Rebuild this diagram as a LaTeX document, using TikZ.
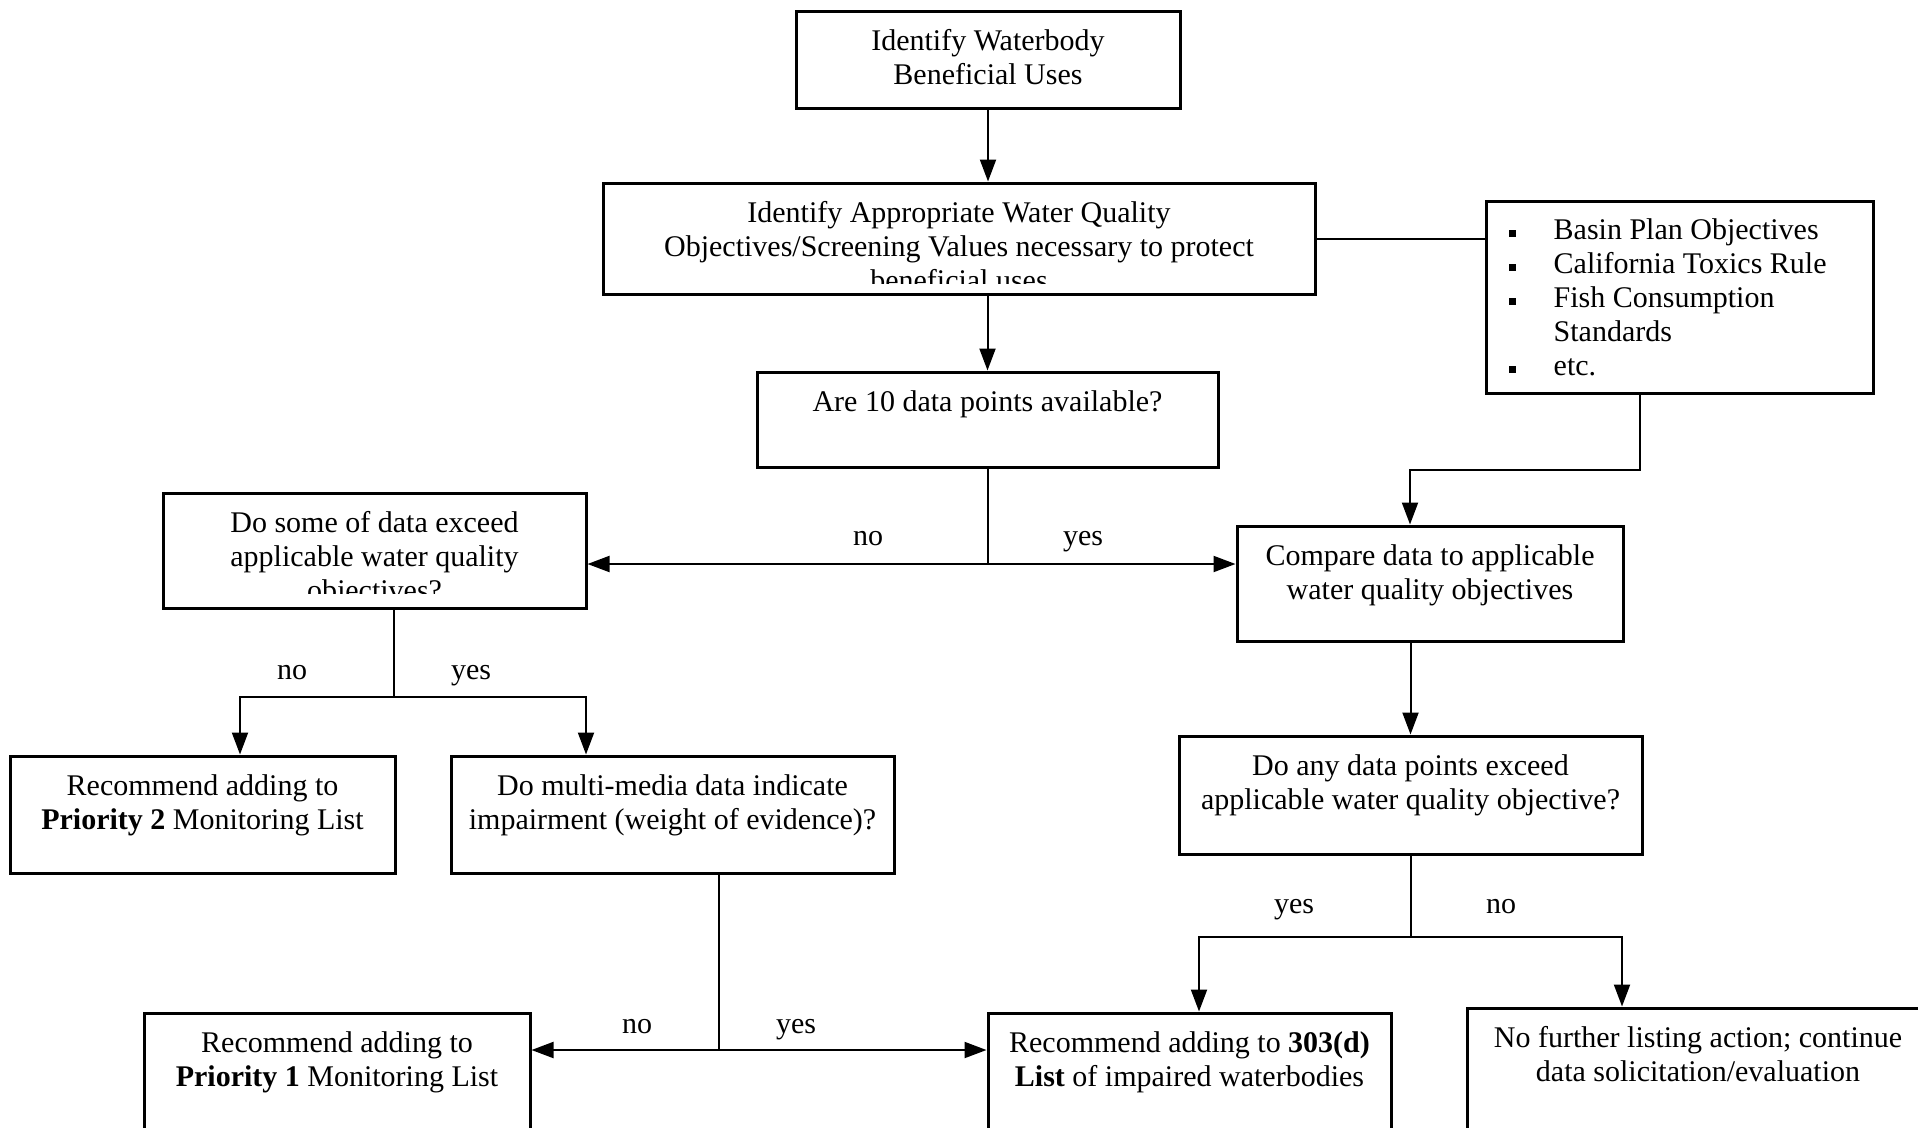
\documentclass[tikz,border=0pt]{standalone}
\usepackage{fontspec}
\setmainfont{Liberation Serif}
\usetikzlibrary{arrows.meta, positioning}

\newcommand{\bul}{\rule[3pt]{7pt}{7pt}}

\begin{document}
\begin{tikzpicture}[x=1pt, y=-1pt,
        box/.style={draw, line width=3pt, inner sep=0pt},
        txt/.style={font=\fontsize{30}{34}\selectfont, align=center, inner sep=0pt},
        lbl/.style={font=\fontsize{30}{34}\selectfont, inner sep=0pt, text height=13pt, text depth=0pt},
        link/.style={line width=2pt},
        arr/.style={line width=2pt, -{Triangle[length=22pt, width=16pt]}},
        twoarr/.style={line width=2pt, {Triangle[length=22pt, width=16pt]}-{Triangle[length=22pt, width=16pt]}}]
        \useasboundingbox (0,0) rectangle (1918,1127);

        \node[box, minimum width=384pt, minimum height=97pt] (waterbody) at (988,59.5) {};
        \node[box, minimum width=712pt, minimum height=111pt] (objectives) at (959,238.5) {};
        \node[box, minimum width=387pt, minimum height=192pt] (sources) at (1679.5,297) {};
        \node[box, minimum width=461pt, minimum height=95pt] (tenpoints) at (987.5,419.5) {};
        \node[box, minimum width=423pt, minimum height=115pt] (someexceed) at (374.5,550.5) {};
        \node[box, minimum width=386pt, minimum height=115pt] (compare) at (1430,583.5) {};
        \node[box, minimum width=385pt, minimum height=117pt] (prioritytwo) at (202.5,814.5) {};
        \node[box, minimum width=443pt, minimum height=117pt] (multimedia) at (672.5,814.5) {};
        \node[box, minimum width=463pt, minimum height=118pt] (anyexceed) at (1410.5,795) {};
        \node[box, minimum width=386pt, minimum height=160pt] (priorityone) at (337,1093) {};
        \node[box, minimum width=403pt, minimum height=160pt] (listing) at (1189.5,1093) {};
        \node[box, minimum width=462pt, minimum height=160pt] (nofurther) at (1698,1088) {};

        \node[txt, below=17pt of waterbody.north] (waterbody-t) {\strut Identify Waterbody\\ Beneficial Uses};
        \begin{scope}
            \clip (603,183) rectangle (1315,283);
            \node[txt, below=17pt of objectives.north] (objectives-t) {\strut Identify Appropriate Water Quality\\ Objectives/Screening Values necessary to protect\\ beneficial uses};
        \end{scope}
        \node[txt, anchor=north west] (sources-t) at ([xshift=24pt, yshift=-16pt]sources.north west)
            {\begin{tabular}{@{}p{45pt}@{}l@{}}
                \bul & Basin Plan Objectives\\
                \bul & California Toxics Rule\\
                \bul & Fish Consumption\\
                     & Standards\\
                \bul & etc.
            \end{tabular}};
        \node[txt, below=17pt of tenpoints.north] (tenpoints-t) {\strut Are 10 data points available?};
        \begin{scope}
            \clip (163,493) rectangle (586,593);
            \node[txt, below=17pt of someexceed.north] (someexceed-t) {\strut Do some of data exceed\\ applicable water quality\\ objectives?};
        \end{scope}
        \node[txt, below=17pt of compare.north] (compare-t) {\strut Compare data to applicable\\ water quality objectives};
        \node[txt, below=17pt of prioritytwo.north] (prioritytwo-t) {\strut Recommend adding to\\ \textbf{Priority 2} Monitoring List};
        \node[txt, below=17pt of multimedia.north] (multimedia-t) {\strut Do multi-media data indicate\\ impairment (weight of evidence)?};
        \node[txt, below=17pt of anyexceed.north] (anyexceed-t) {\strut Do any data points exceed\\ applicable water quality objective?};
        \node[txt, below=17pt of priorityone.north] (priorityone-t) {\strut Recommend adding to\\ \textbf{Priority 1} Monitoring List};
        \node[txt, below=17pt of listing.north] (listing-t) {\strut Recommend adding to \textbf{303(d)}\\ \textbf{List} of impaired waterbodies};
        \node[txt, below=17pt of nofurther.north] (nofurther-t) {\strut No further listing action; continue\\ data solicitation/evaluation};

        \coordinate (split1) at (987.5,564);
        \coordinate (split2) at (394,697);
        \coordinate (split3) at (1410.5,937);
        \coordinate (split4) at (719,1050);

        \draw[arr] (waterbody.south) -- (waterbody.south |- objectives.north);
        \draw[arr] (tenpoints.north |- objectives.south) -- (tenpoints.north);
        \draw[link] (objectives.east) -- (objectives.east -| sources.west);
        \draw[arr] ([xshift=-39.5pt]sources.south) -- ++(0,75) -| ([xshift=-20pt]compare.north);

        \draw[link] (tenpoints.south) -- (split1);
        \draw[twoarr] (someexceed.east |- split1) -- (compare.west |- split1);
        \node[lbl] (no1) at (868,539) {no};
        \node[lbl] (yes1) at (1083,539) {yes};

        \draw[link] (someexceed.south -| split2) -- (split2);
        \draw[arr] (split2) -| ([xshift=37.5pt]prioritytwo.north);
        \draw[arr] (split2) -| ([xshift=-86.5pt]multimedia.north);
        \node[lbl] (no2) at (292,673) {no};
        \node[lbl] (yes2) at (471,673) {yes};

        \draw[arr] (anyexceed.north |- compare.south) -- (anyexceed.north);
        \draw[link] (anyexceed.south) -- (split3);
        \draw[arr] (split3) -| ([xshift=9.5pt]listing.north);
        \draw[arr] (split3) -| ([xshift=-76pt]nofurther.north);
        \node[lbl] (yes3) at (1294,907) {yes};
        \node[lbl] (no3) at (1501,907) {no};

        \draw[link] (multimedia.south -| split4) -- (split4);
        \draw[twoarr] (priorityone.east |- split4) -- (listing.west |- split4);
        \node[lbl] (no4) at (637,1027) {no};
        \node[lbl] (yes4) at (796,1027) {yes};
\end{tikzpicture}
\end{document}
